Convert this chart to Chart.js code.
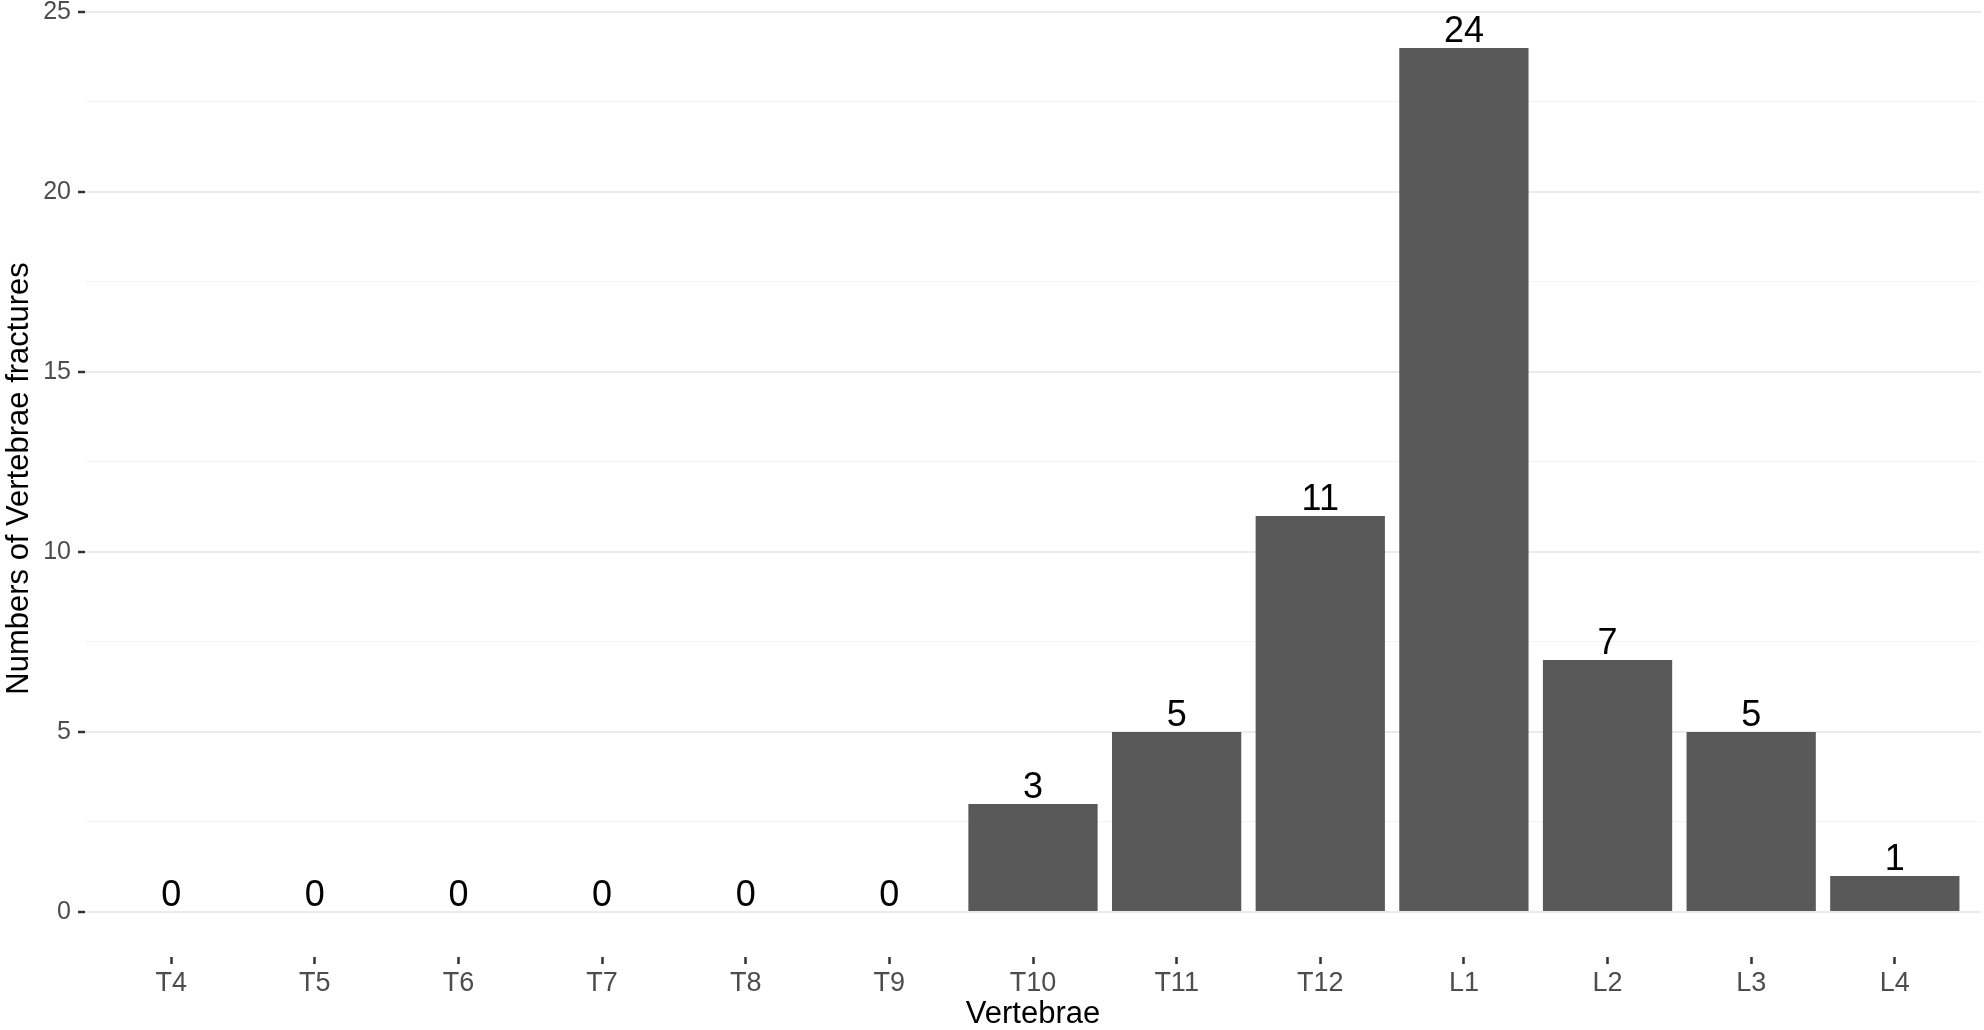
<!DOCTYPE html>
<html>
<head>
<meta charset="utf-8">
<script src="https://cdn.jsdelivr.net/npm/chart.js@4/dist/chart.umd.min.js"></script>
<style>
  html, body { margin: 0; padding: 0; background: #fff; }
  canvas { display: block; }
</style>
</head>
<body>
<canvas id="chart-vertebrae" width="1984" height="1030"></canvas>
<script>
// ─── DATA ─────────────────────────────────────────────────────
const categories = ["T4","T5","T6","T7","T8","T9","T10","T11","T12","L1","L2","L3","L4"];
const fractures  = [0, 0, 0, 0, 0, 0, 3, 5, 11, 24, 7, 5, 1];
const yMajorTicks = [0, 5, 10, 15, 20, 25];
const yMinorTicks = [2.5, 7.5, 12.5, 17.5, 22.5];

const fontFamily = "'Liberation Sans', Arial, Helvetica, sans-serif";
const isMajor = (v) => yMajorTicks.includes(v);

// bar value labels drawn above each bar
const valueLabels = {
  id: "valueLabels",
  afterDatasetsDraw(chart) {
    const { ctx } = chart;
    const meta = chart.getDatasetMeta(0);
    ctx.save();
    ctx.fillStyle = "#000";
    ctx.font = `36px ${fontFamily}`;
    ctx.textAlign = "center";
    ctx.textBaseline = "alphabetic";
    meta.data.forEach((bar, i) => {
      ctx.fillText(String(fractures[i]), bar.x, bar.y - 6);
    });
    ctx.restore();
  }
};

new Chart(document.getElementById("chart-vertebrae"), {
  type: "bar",
  data: {
    datasets: [{
      data: fractures.map((v, i) => ({ x: i, y: v })),
      backgroundColor: "#595959",
      borderWidth: 0,
      barPercentage: 0.9,
      categoryPercentage: 1.0
    }]
  },
  options: {
    responsive: false,
    animation: false,
    devicePixelRatio: 1,
    layout: { padding: { left: 0, top: 0, right: 3, bottom: 0 } },
    plugins: { legend: { display: false }, tooltip: { enabled: false } },
    scales: {
      x: {
        type: "linear",
        min: -0.6,
        max: 12.6,
        offset: false,
        afterBuildTicks: (s) => { s.ticks = categories.map((c, i) => ({ value: i })); },
        afterFit: (s) => { s.height = 73; s.paddingLeft = 0; s.paddingRight = 0; },
        border: { display: false },
        grid: { offset: false, drawOnChartArea: false, drawTicks: true, tickLength: 7, tickColor: "#333333", tickWidth: 2.5 },
        ticks: {
          color: "#4d4d4d",
          font: { family: fontFamily, size: 27 },
          padding: 3,
          maxRotation: 0,
          autoSkip: false,
          callback: (v) => categories[v]
        },
        title: {
          display: true,
          text: "Vertebrae",
          color: "#000",
          font: { family: fontFamily, size: 31 },
          padding: { top: 0, bottom: -3 }
        }
      },
      y: {
        min: -1.25,
        max: 25.33,
        afterBuildTicks: (s) => {
          s.ticks = [...yMajorTicks, ...yMinorTicks].sort((a, b) => a - b).map(v => ({ value: v }));
        },
        afterFit: (s) => { s.width = 85; s.paddingTop = 0; s.paddingBottom = 0; },
        border: { display: false },
        grid: {
          color: (c) => isMajor(c.tick.value) ? "#ebebeb" : "#f4f4f4",
          lineWidth: (c) => isMajor(c.tick.value) ? 2 : 1,
          tickColor: (c) => isMajor(c.tick.value) ? "#333333" : "rgba(0,0,0,0)",
          tickWidth: 2.5,
          tickLength: 7
        },
        ticks: {
          color: "#4d4d4d",
          font: { family: fontFamily, size: 25 },
          padding: 7,
          callback: (v) => isMajor(v) ? String(v) : ""
        },
        title: {
          display: true,
          text: "Numbers of Vertebrae fractures",
          color: "#000",
          font: { family: fontFamily, size: 31 },
          padding: { top: 1, bottom: 0 }
        }
      }
    }
  },
  plugins: [valueLabels]
});
</script>
</body>
</html>
